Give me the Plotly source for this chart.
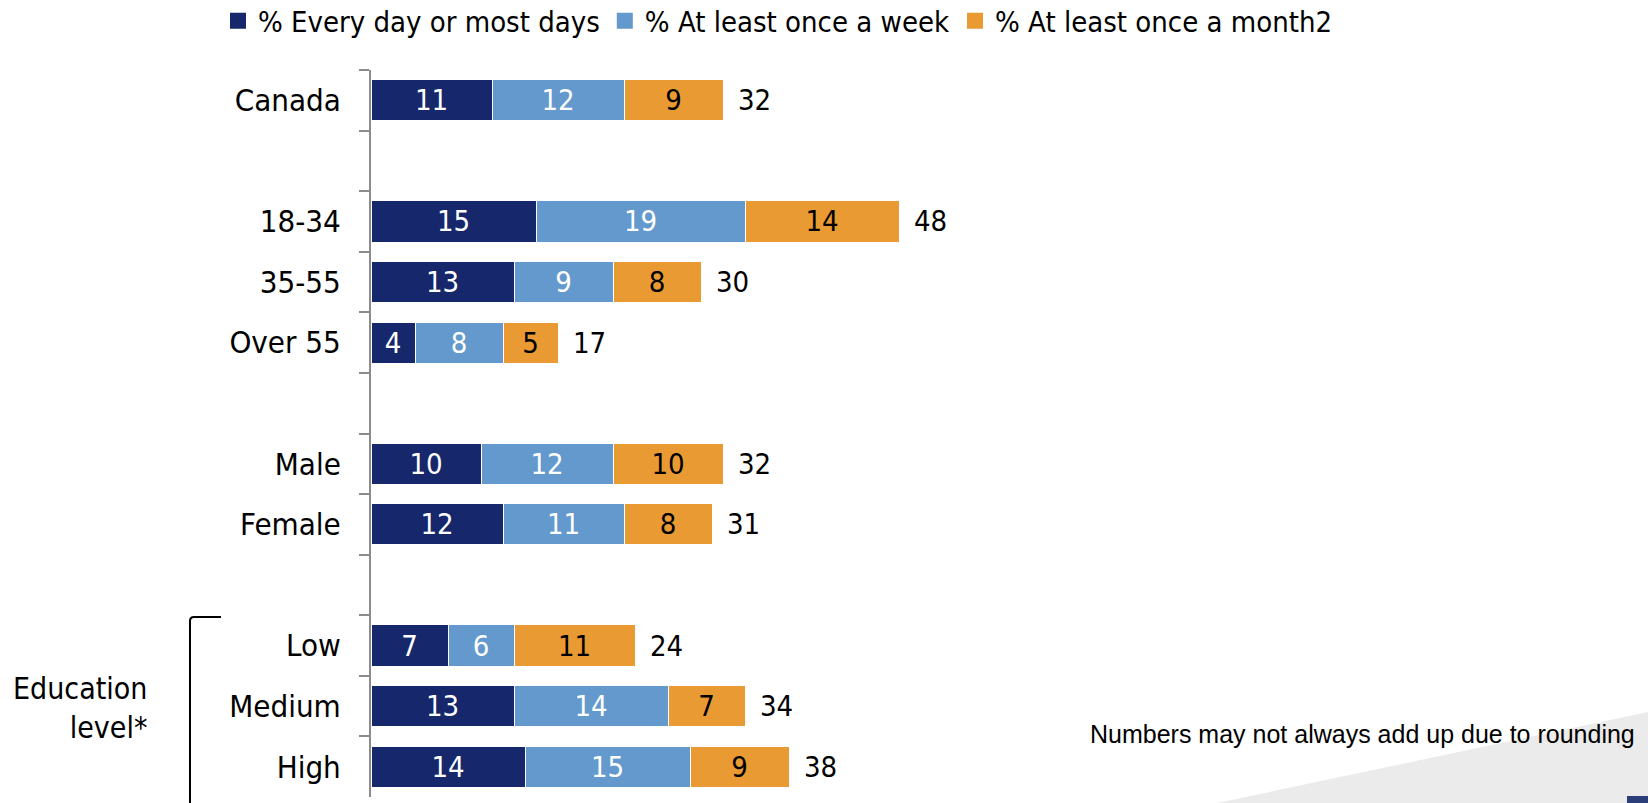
import plotly.graph_objects as go

# ---- data ----
categories = ["Canada", " ", "18-34", "35-55", "Over 55", "  ", "Male", "Female", "   ", "Low", "Medium", "High"]
every_day = [11, None, 15, 13, 4, None, 10, 12, None, 7, 13, 14]
once_week = [12, None, 19, 9, 8, None, 12, 11, None, 6, 14, 15]
once_month = [9, None, 14, 8, 5, None, 10, 8, None, 11, 7, 9]
totals = [32, None, 48, 30, 17, None, 32, 31, None, 24, 34, 38]
series_names = ["% Every day or most days", "% At least once a week", "% At least once a month2"]
note_text = "Numbers may not always add up due to rounding"
group_label = "Education<br>level*"

# ---- style ----
OFF = 0  # body margin removed via post_script
W, H = 1648 - OFF, 803 - OFF
L, T = 371 - OFF, 70 - OFF
PLOT_W = 1100
PLOT_H = 727
R = W - L - PLOT_W
B = H - T - PLOT_H
FONT = "DejaVu Sans Condensed, DejaVu Sans, sans-serif"
colors = ["#16286B", "#6399CD", "#EA9A33"]
text_colors = ["white", "white", "black"]

def px(xp):
    # page pixel -> paper fraction
    return (xp - OFF - L) / PLOT_W

def py(yp):
    return (T + PLOT_H - (yp - OFF)) / PLOT_H

fig = go.Figure()
for name, vals, c, tc in zip(series_names, [every_day, once_week, once_month], colors, text_colors):
    fig.add_trace(go.Bar(
        y=categories, x=vals, name=name, orientation="h", showlegend=False,
        marker=dict(color=c, line=dict(width=1, color="white")),
        text=[("" if v is None else str(v)) for v in vals],
        textposition="inside", insidetextanchor="middle",
        textfont=dict(family=FONT, size=29, color=tc),
        constraintext="none", cliponaxis=False,
    ))
# legend entries with square swatches
for name, c in zip(series_names, colors):
    fig.add_trace(go.Scatter(
        x=[None], y=[None], mode="markers", name=name,
        marker=dict(symbol="square", size=16, color=c),
    ))

annotations = []
for cat, tot in zip(categories, totals):
    if tot is None:
        continue
    annotations.append(dict(x=tot, y=cat, xref="x", yref="y", text=str(tot), showarrow=False,
                            xanchor="left", xshift=13, font=dict(family=FONT, size=29, color="black")))

annotations.append(dict(x=px(149), y=py(708), xref="paper", yref="paper", text=group_label, showarrow=False,
                        xanchor="right", yanchor="middle", align="right",
                        font=dict(family=FONT, size=30, color="black")))
annotations.append(dict(x=px(1637), y=py(734), xref="paper", yref="paper", text=note_text, showarrow=False,
                        xanchor="right", yanchor="middle",
                        font=dict(family="Liberation Sans, Arial, sans-serif", size=25, color="black")))

shapes = [
    dict(type="path", xref="paper", yref="paper", layer="below",
         path=f"M {px(1217)} {py(803)} L {px(1648)} {py(712)} L {px(1648)} {py(803)} Z",
         fillcolor="#EBEBEB", line=dict(width=0)),
    dict(type="rect", xref="paper", yref="paper", layer="above",
         x0=px(1627), x1=px(1648), y0=py(803), y1=py(796),
         fillcolor="#2C3E7A", line=dict(width=0)),
    dict(type="path", xref="paper", yref="paper",
         path=f"M {px(221)} {py(617)} L {px(194)} {py(617)} Q {px(190)} {py(617)} {px(190)} {py(621)} L {px(190)} {py(810)}",
         line=dict(color="black", width=2)),
]

fig.update_layout(
    width=W, height=H,
    margin=dict(l=L, r=R, t=T, b=B, autoexpand=False),
    barmode="stack", bargap=0.32,
    paper_bgcolor="white", plot_bgcolor="rgba(0,0,0,0)",
    showlegend=True,
    legend=dict(orientation="h", x=px(218), y=py(21), xanchor="left", yanchor="middle",
                font=dict(family=FONT, size=29, color="black"), traceorder="normal",
                itemsizing="trace", bgcolor="rgba(0,0,0,0)"),
    xaxis=dict(visible=False, range=[0, 100]),
    yaxis=dict(categoryorder="array", categoryarray=categories, autorange="reversed",
               showline=True, linecolor="#8C8C8C", linewidth=2,
               ticks="outside", ticklen=10, tickcolor="#8C8C8C", tickwidth=2,
               tickson="boundaries", showgrid=False, zeroline=False,
               ticklabelstandoff=22,
               tickfont=dict(family=FONT, size=31, color="black")),
    annotations=annotations, shapes=shapes,
    font=dict(family=FONT),
)

fig.write_html("out.html", config={"displayModeBar": False},
               post_script="document.body.style.margin='0px';")
